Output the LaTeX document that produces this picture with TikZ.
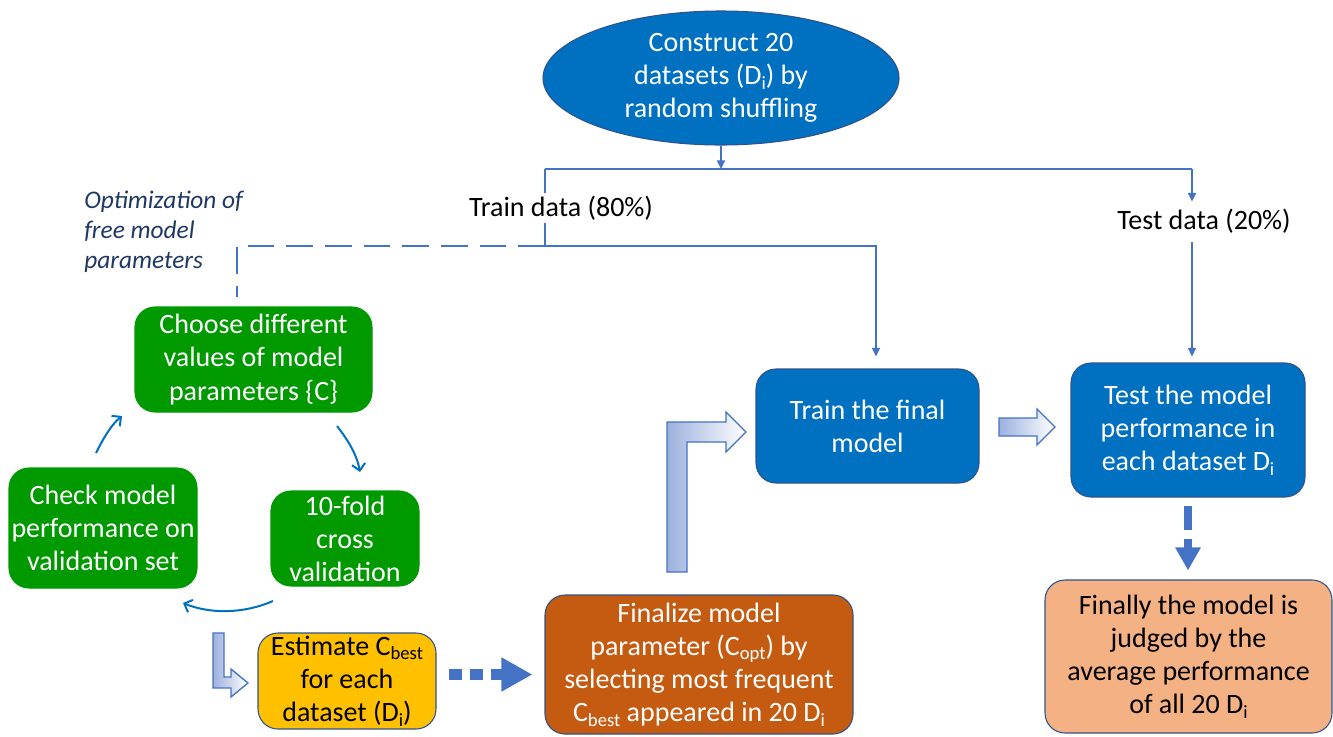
\documentclass[tikz,border=0pt]{standalone}
\usepackage{fontspec}
\setmainfont{Carlito}
\usetikzlibrary{arrows.meta,shapes.geometric,calc}

\definecolor{cblue}{HTML}{0070C0}
\definecolor{cedge}{HTML}{2F528F}
\definecolor{cgreen}{HTML}{009A00}
\definecolor{cyellow}{HTML}{FFC000}
\definecolor{corange}{HTML}{C55A11}
\definecolor{cpeach}{HTML}{F4B183}
\definecolor{cline}{HTML}{4472C4}
\definecolor{cnote}{HTML}{1F3864}
\definecolor{cshade}{HTML}{9DB1DE}

% small lowered index, as in D_i or C_best
\newcommand\lo[1]{\raisebox{-0.35ex}{\fontsize{14}{14}\selectfont #1}}

\begin{document}
\begin{tikzpicture}[x=0.75pt,y=-0.75pt,
  sz/.style 2 args={minimum width={#1*0.75pt},minimum height={#2*0.75pt}},
  txt/.style={font=\fontsize{21}{24.8}\selectfont},
  bbox/.style={txt,rectangle,rounded corners=20pt*0.75,align=center,inner sep=0pt,
    text=white,draw=cedge,line width=0.8pt},
  gbox/.style={bbox,fill=cgreen,draw=cgreen,rounded corners=20pt*0.75},
  lbl/.style={txt,inner sep=0pt,text=black},
  note/.style={font=\fontsize{19}{22.5}\selectfont\itshape,text=cnote,align=left,inner sep=0pt},
  conn/.style={draw=cline,line width=1.4pt},
  tri/.style={-{Triangle[length=6.5pt,width=6pt]}},
  cyc/.style={draw=cblue,line width=1.5pt,-{Straight Barb[length=5pt,width=10pt]}},
  blockarrow/.style={left color=cshade,right color=white,draw=cline,line width=1pt},
  fatdash/.style={draw=cline,line cap=butt}]

\useasboundingbox (0,0) rectangle (1333,736);

% ---------- nodes ----------
\node[ellipse,txt,fill=cblue,draw=cedge,line width=0.8pt,text=white,align=center,
      inner sep=0pt,sz={356}{134}] (shuffle) at (721,78)
  {Construct 20\\datasets (D\lo{i}) by\\random shuffling};

\node[gbox,sz={237}{105}] (choose) at (253.5,359.5) {Choose different\\values of model\\parameters \{C\}};
\node[gbox,sz={188}{120}] (check) at (103,528) {Check model\\performance on\\validation set};
\node[gbox,sz={148}{95}] (fold) at (345,538.5) {10-fold\\cross\\validation};

\node[bbox,fill=cyellow,text=black,sz={178}{96}] (est) at (347,681)
  {Estimate C\lo{best}\\for each\\dataset (D\lo{i})};
\node[bbox,fill=corange,sz={308}{139}] (fin) at (699,664.5)
  {Finalize model\\parameter (C\lo{opt}) by\\selecting most frequent\\C\lo{best} appeared in 20 D\lo{i}};
\node[bbox,fill=cblue,sz={223}{114}] (train) at (867.5,426) {Train the final\\model};
\node[bbox,fill=cblue,sz={234}{134}] (test) at (1188,430)
  {Test the model\\performance in\\each dataset D\lo{i}};
\node[bbox,fill=cpeach,text=black,sz={287}{153}] (final) at (1188.5,656.5)
  {Finally the model is\\judged by the\\average performance\\of all 20 D\lo{i}};

\node[lbl,anchor=base] (testlbl) at (1204,229) {Test data (20\%)};
\node[note,anchor=west] (optnote) at (84,232) {Optimization of\\free model\\parameters};

% ---------- split of the data ----------
\coordinate (split)  at (721,169);
\coordinate (lsplit) at (545,169);
\coordinate (rsplit) at (1192,169);
\coordinate (tjunc)  at (545,246);
\coordinate (tcorner) at (876,246);
\coordinate (ojunc)  at (237,246);

\draw[conn,tri] (shuffle.south) -- (split);
\draw[conn] (lsplit) -- (rsplit);
\draw[conn,tri,shorten >=5pt] (rsplit) -- (testlbl.north -| rsplit);
\draw[conn,tri,shorten <=7pt,shorten >=4.5pt] (testlbl.south -| rsplit) -- (test.north -| rsplit);
\draw[conn,tri,shorten >=9pt] (lsplit) -- (tjunc) -- (tcorner) -- (tcorner |- train.north);
\draw[conn,dash pattern=on 20pt off 9pt,shorten >=6.75pt] (tjunc) -- (ojunc) -- (ojunc |- choose.north);

\node[lbl,anchor=base,fill=white,inner ysep=2pt] (trainlbl) at (561,216) {Train data (80\%)};

% ---------- optimisation cycle ----------
\draw[cyc] (96,453) .. controls (104,437) and (112,424) .. (122,416);
\draw[cyc] (337,426) .. controls (348,440) and (357,455) .. (360,472);
\draw[cyc] (273,601) .. controls (243,614) and (210,614) .. (183,603);

% ---------- block arrows ----------
\shade[blockarrow] (213,633) -- (224,633) -- (224,677) -- (231,677) -- (231,669) -- (248,683)
  -- (231,697) -- (231,688) -- (213,688) -- cycle;
\shade[blockarrow] (667,572) -- (667,422) -- (726,422) -- (726,412) -- (746,432) -- (726,452)
  -- (726,442) -- (687,442) -- (687,572) -- cycle;
\shade[blockarrow] (999,418) -- (1037,418) -- (1037,409) -- (1055,427) -- (1037,445)
  -- (1037,436) -- (999,436) -- cycle;

% ---------- thick dashed arrows ----------
\coordinate (hy) at (0,674.5);
\draw[fatdash,line width=8.25pt,dash pattern=on 9.75pt off 6pt,
      -{Triangle[length=23.25pt,width=24pt]}]
  ($(est.east |- hy)+(12,0)$) -- ($(fin.west |- hy)+(-12,0)$);
\draw[fatdash,line width=6.4pt,dash pattern=on 18pt off 6.75pt,
      -{Triangle[length=17.25pt,width=18pt]},shorten <=6pt,shorten >=6.75pt]
  (test.south) -- (test.south |- final.north);

\end{tikzpicture}
\end{document}
